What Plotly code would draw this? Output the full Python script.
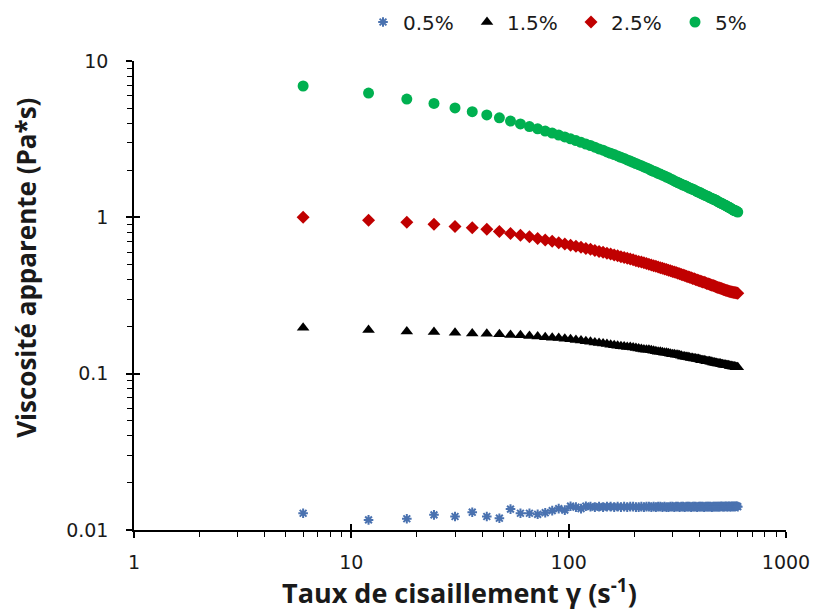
import plotly.graph_objects as go

# ---------------- data ----------------
shear_rate = [6, 12, 18, 24, 30, 36, 42, 48, 54, 60,
              66, 72, 78, 84, 90, 96, 102, 108, 114, 120,
              126, 132, 138, 144, 150, 156, 162, 168, 174, 180,
              186, 192, 198, 204, 210, 216, 222, 228, 234, 240,
              246, 252, 258, 264, 270, 276, 282, 288, 294, 300,
              306, 312, 318, 324, 330, 336, 342, 348, 354, 360,
              366, 372, 378, 384, 390, 396, 402, 408, 414, 420,
              426, 432, 438, 444, 450, 456, 462, 468, 474, 480,
              486, 492, 498, 504, 510, 516, 522, 528, 534, 540,
              546, 552, 558, 564, 570, 576, 582, 588, 594, 600]

visc_0_5 = [0.0128, 0.0116, 0.0118, 0.0125, 0.0122, 0.0130, 0.0122, 0.0119, 0.0136, 0.0128,
            0.0128, 0.0126, 0.0129, 0.0133, 0.0137, 0.0134, 0.0142, 0.0140, 0.0137, 0.0142,
            0.0141, 0.0140, 0.0141, 0.0140, 0.0141, 0.0141, 0.0140, 0.0141, 0.0140, 0.0141,
            0.0140, 0.0141, 0.0141, 0.0140, 0.0140, 0.0141, 0.0140, 0.0141, 0.0141, 0.0140,
            0.0141, 0.0140, 0.0141, 0.0141, 0.0140, 0.0141, 0.0140, 0.0140, 0.0141, 0.0141,
            0.0140, 0.0141, 0.0141, 0.0140, 0.0141, 0.0141, 0.0140, 0.0141, 0.0141, 0.0141,
            0.0140, 0.0141, 0.0141, 0.0141, 0.0140, 0.0141, 0.0141, 0.0141, 0.0141, 0.0140,
            0.0141, 0.0141, 0.0141, 0.0141, 0.0141, 0.0140, 0.0141, 0.0141, 0.0141, 0.0141,
            0.0141, 0.0141, 0.0141, 0.0142, 0.0141, 0.0141, 0.0141, 0.0142, 0.0141, 0.0141,
            0.0142, 0.0141, 0.0141, 0.0142, 0.0141, 0.0142, 0.0141, 0.0142, 0.0142, 0.0141]

visc_1_5 = [0.197, 0.190, 0.186, 0.185, 0.183, 0.181, 0.180, 0.179, 0.177, 0.176,
            0.174, 0.173, 0.171, 0.170, 0.169, 0.167, 0.166, 0.164, 0.163, 0.161,
            0.160, 0.158, 0.157, 0.156, 0.155, 0.153, 0.152, 0.151, 0.150, 0.149,
            0.148, 0.148, 0.147, 0.146, 0.145, 0.144, 0.143, 0.142, 0.142, 0.141,
            0.140, 0.139, 0.138, 0.138, 0.137, 0.136, 0.136, 0.135, 0.134, 0.133,
            0.133, 0.132, 0.132, 0.131, 0.130, 0.129, 0.129, 0.128, 0.128, 0.127,
            0.126, 0.126, 0.125, 0.125, 0.124, 0.124, 0.123, 0.122, 0.122, 0.122,
            0.121, 0.120, 0.120, 0.120, 0.119, 0.119, 0.118, 0.118, 0.117, 0.117,
            0.116, 0.116, 0.116, 0.115, 0.115, 0.114, 0.114, 0.114, 0.113, 0.113,
            0.113, 0.112, 0.112, 0.112, 0.111, 0.111, 0.111, 0.110, 0.110, 0.110]

visc_2_5 = [1.00, 0.957, 0.931, 0.902, 0.875, 0.859, 0.838, 0.813, 0.789, 0.769,
            0.750, 0.733, 0.716, 0.702, 0.689, 0.676, 0.664, 0.653, 0.643, 0.632,
            0.624, 0.614, 0.605, 0.597, 0.589, 0.582, 0.574, 0.568, 0.560, 0.553,
            0.547, 0.541, 0.535, 0.528, 0.522, 0.518, 0.512, 0.506, 0.501, 0.495,
            0.491, 0.486, 0.481, 0.476, 0.472, 0.468, 0.463, 0.459, 0.455, 0.451,
            0.447, 0.443, 0.439, 0.435, 0.431, 0.428, 0.424, 0.420, 0.417, 0.414,
            0.410, 0.406, 0.404, 0.401, 0.397, 0.394, 0.392, 0.389, 0.386, 0.384,
            0.381, 0.378, 0.376, 0.373, 0.371, 0.368, 0.366, 0.364, 0.361, 0.359,
            0.356, 0.355, 0.352, 0.351, 0.348, 0.346, 0.344, 0.342, 0.340, 0.339,
            0.337, 0.335, 0.334, 0.333, 0.332, 0.331, 0.330, 0.329, 0.328, 0.327]

visc_5 = [6.92, 6.24, 5.71, 5.35, 5.01, 4.74, 4.52, 4.33, 4.13, 3.96,
          3.81, 3.68, 3.56, 3.46, 3.36, 3.27, 3.18, 3.10, 3.02, 2.94,
          2.88, 2.81, 2.74, 2.69, 2.62, 2.57, 2.52, 2.47, 2.42, 2.38,
          2.33, 2.29, 2.25, 2.21, 2.17, 2.14, 2.10, 2.07, 2.04, 2.00,
          1.97, 1.95, 1.91, 1.89, 1.86, 1.84, 1.81, 1.79, 1.76, 1.74,
          1.71, 1.69, 1.67, 1.65, 1.63, 1.61, 1.60, 1.58, 1.56, 1.54,
          1.53, 1.51, 1.50, 1.48, 1.46, 1.45, 1.44, 1.42, 1.41, 1.39,
          1.38, 1.37, 1.36, 1.34, 1.33, 1.32, 1.31, 1.30, 1.29, 1.28,
          1.26, 1.25, 1.24, 1.23, 1.22, 1.21, 1.20, 1.19, 1.18, 1.17,
          1.16, 1.15, 1.14, 1.13, 1.12, 1.11, 1.10, 1.10, 1.09, 1.08]

series_names = ["0.5%", "1.5%", "2.5%", "5%"]

x_tickvals = [1, 10, 100, 1000]
x_ticktext = ["1", "10", "100", "1000"]
x_minor = [2, 3, 4, 5, 6, 7, 8, 9, 20, 30, 40, 50, 60, 70, 80, 90,
           200, 300, 400, 500, 600, 700, 800, 900]
y_tickvals = [0.01, 0.1, 1, 10]
y_ticktext = ["0.01", "0.1", "1", "10"]
y_minor = [0.02, 0.03, 0.04, 0.05, 0.06, 0.07, 0.08, 0.09,
           0.2, 0.3, 0.4, 0.5, 0.6, 0.7, 0.8, 0.9,
           2, 3, 4, 5, 6, 7, 8, 9]

x_title = "Taux de cisaillement γ (s<sup>-1</sup>)"
y_title = "Viscosité apparente (Pa*s)"

# ---------------- figure ----------------
fig = go.Figure()

styles = [
    dict(symbol="asterisk-open", size=8, color="#4A72B0", line=dict(color="#4A72B0", width=2)),
    dict(symbol="triangle-up", size=11, color="#000000", line=dict(width=0)),
    dict(symbol="diamond", size=10, color="#C00000", line=dict(width=0)),
    dict(symbol="circle", size=11, color="#00B050", line=dict(width=0)),
]
for name, vals, st in zip(series_names, [visc_0_5, visc_1_5, visc_2_5, visc_5], styles):
    fig.add_trace(go.Scatter(x=shear_rate, y=vals, mode="markers", name=name, marker=st))

# empty trace carrying the overlay axes that draw the inner half of the major ticks
fig.add_trace(go.Scatter(x=[], y=[], xaxis="x2", yaxis="y2", showlegend=False, hoverinfo="skip"))

axis_common = dict(showgrid=False, zeroline=False, showline=True, linecolor="black", linewidth=1.5,
                   ticks="outside", ticklen=6, tickwidth=1.5, tickcolor="black", type="log",
                   automargin=False)

x_title_font = dict(family="Open Sans", size=27, color="#1a1a1a", weight="bold")
y_title_font = dict(family="Open Sans", size=26, color="#1a1a1a", weight="bold")

fig.update_layout(
    width=817, height=610,
    margin=dict(l=134, r=31, t=61, b=80),
    plot_bgcolor="white", paper_bgcolor="white",
    font=dict(family="DejaVu Sans", size=19, color="#1a1a1a"),
    xaxis=dict(range=[0, 3], tickmode="array", tickvals=x_tickvals, ticktext=x_ticktext,
               minor=dict(tickmode="array", tickvals=x_minor, ticks="outside", ticklen=5,
                          tickwidth=1.2, tickcolor="black", showgrid=False),
               ticklabelstandoff=8, **axis_common),
    yaxis=dict(range=[-2, 1], tickmode="array", tickvals=y_tickvals, ticktext=y_ticktext,
               minor=dict(tickmode="array", tickvals=y_minor, ticks="outside", ticklen=5,
                          tickwidth=1.2, tickcolor="black", showgrid=False),
               ticklabelstandoff=14, **axis_common),
    xaxis2=dict(type="log", range=[0, 3], overlaying="x", anchor="y2", side="bottom",
                showgrid=False, zeroline=False, showline=False, showticklabels=False,
                tickmode="array", tickvals=x_tickvals, ticks="inside", ticklen=6,
                tickwidth=1.5, tickcolor="black", automargin=False),
    yaxis2=dict(type="log", range=[-2, 1], overlaying="y", anchor="x2", side="left",
                showgrid=False, zeroline=False, showline=False, showticklabels=False,
                tickmode="array", tickvals=y_tickvals, ticks="inside", ticklen=6,
                tickwidth=1.5, tickcolor="black", automargin=False),
    legend=dict(orientation="h", xref="container", yref="container",
                x=363 / 817, xanchor="left", y=1 - 22 / 610, yanchor="middle",
                font=dict(family="DejaVu Sans", size=20, color="#1a1a1a"),
                itemwidth=30, entrywidth=59, entrywidthmode="pixels",
                bgcolor="rgba(0,0,0,0)"),
    showlegend=True,
    annotations=[
        dict(text=x_title, xref="paper", yref="paper", x=0.4985, y=-0.131,
             xanchor="center", yanchor="middle", showarrow=False, font=x_title_font),
        dict(text=y_title, xref="paper", yref="paper", x=-0.166, y=0.5586, textangle=-90,
             xanchor="center", yanchor="middle", showarrow=False, font=y_title_font),
    ],
)

fig.write_html("out.html", config={"displayModeBar": False},
               post_script="document.body.style.margin='0';document.body.style.overflow='hidden';")
